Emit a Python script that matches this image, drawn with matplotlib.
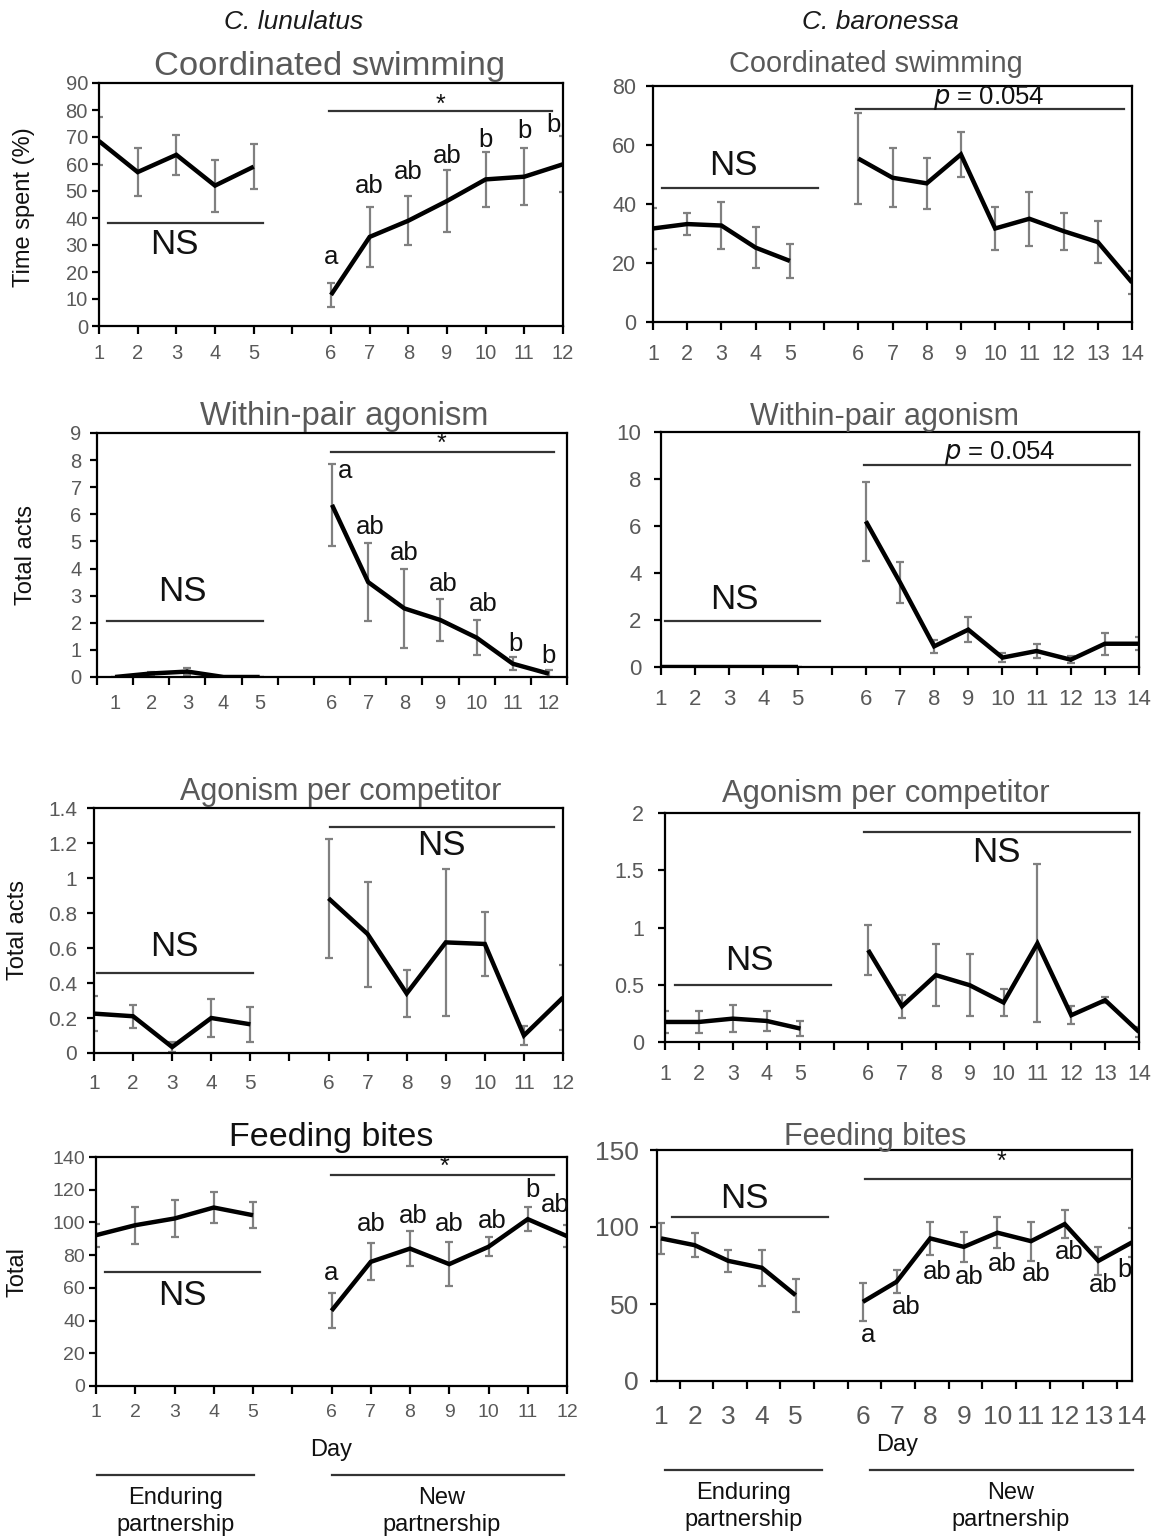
import numpy as np
import matplotlib
matplotlib.use('Agg')
import matplotlib.pyplot as plt
from matplotlib.transforms import blended_transform_factory

plt.rcParams['font.family'] = ['Liberation Sans', 'DejaVu Sans']

W, H = 1159, 1537
GRAY = '#595959'
ERR = '#808080'

# ── data ─────────────────────────────────────────────────────────────────────
days_l = list(range(1, 13))          # C. lunulatus
days_b = list(range(1, 15))          # C. baronessa

# coordinated swimming (%)
swim_l = [68.5, 57, 63.4, 52, 59, 11.5, 33, 39, 46.3, 54.3, 55.3, 59.9]
swim_l_err = [9, 9, 7.3, 9.6, 8.3, 4.4, 11.2, 9, 11.5, 10.2, 10.6, 10.4]
swim_b = [31.7, 33.2, 32.7, 25.2, 20.7, 55.4, 48.9, 47, 56.8, 31.7, 35, 30.8, 27.1, 13.4]
swim_b_err = [7, 3.7, 8, 6.9, 5.7, 15.3, 10, 8.7, 7.5, 7.3, 9.2, 6.3, 7.1, 3.8]

# within-pair agonism (acts)
wpa_l = [0, 0.13, 0.2, 0, 0, 6.35, 3.5, 2.53, 2.1, 1.45, 0.49, 0.12]
wpa_l_err = [0, 0.07, 0.12, 0, 0, 1.5, 1.43, 1.45, 0.76, 0.65, 0.24, 0.12]
wpa_b = [0, 0, 0, 0, 0, 6.2, 3.6, 0.88, 1.59, 0.4, 0.68, 0.31, 0.99, 0.99]
wpa_b_err = [0, 0, 0, 0, 0, 1.68, 0.88, 0.28, 0.53, 0.2, 0.3, 0.15, 0.46, 0.27]

# agonism per competitor (acts)
apc_l = [0.225, 0.21, 0.034, 0.2, 0.164, 0.884, 0.68, 0.34, 0.632, 0.623, 0.1, 0.317]
apc_l_err = [0.1, 0.067, 0.03, 0.11, 0.1, 0.34, 0.3, 0.134, 0.42, 0.185, 0.055, 0.185]
apc_b = [0.175, 0.175, 0.204, 0.184, 0.117, 0.803, 0.312, 0.584, 0.496, 0.345, 0.861, 0.234, 0.365, 0.088]
apc_b_err = [0.1, 0.1, 0.12, 0.09, 0.065, 0.22, 0.1, 0.27, 0.27, 0.12, 0.69, 0.08, 0.025, 0.04]

# feeding bites (total)
feed_l = [92.2, 98.3, 102.4, 109.1, 104.4, 46, 75.9, 84, 74.5, 85.1, 102, 91.6]
feed_l_err = [7, 11.2, 11.5, 9.7, 7.9, 10.7, 11.4, 10.5, 13.6, 5.8, 7.3, 6.7]
feed_b = [92.6, 88.2, 78, 73.5, 55.7, 51.4, 64.4, 92.6, 87.1, 96.3, 90.8, 101.9, 78, 90]
feed_b_err = [10, 7.9, 7, 11.6, 10.6, 12.3, 7.5, 10.5, 9.6, 10, 12.7, 9.2, 9.2, 9.2]

# post-hoc letters
swim_l_letters = ['a', 'ab', 'ab', 'ab', 'b', 'b', 'b']
wpa_l_letters = ['a', 'ab', 'ab', 'ab', 'ab', 'b', 'b']
feed_l_letters = ['a', 'ab', 'ab', 'ab', 'ab', 'b', 'ab']
feed_b_letters = ['a', 'ab', 'ab', 'ab', 'ab', 'ab', 'ab', 'ab', 'b']

NS_FS = 25
LET_FS = 18.5
STAR_FS = 18
P_FS = 18.5


def slot(day):
    # category slot index: days 1-5, empty slot, then day 6 onward
    return day - 1 if day <= 5 else day


fig = plt.figure(figsize=(W / 100, H / 100), dpi=100)


def px_axes(l, r, t, b):
    return fig.add_axes([l / W, 1 - b / H, (r - l) / W, (b - t) / H])


def draw_series(ax, days, vals, errs, shift=0.0):
    x = np.array([slot(d) for d in days], dtype=float) + shift
    v = np.array(vals)
    e = np.array(errs)
    for seg in (slice(0, 5), slice(5, None)):
        ax.errorbar(x[seg], v[seg], yerr=e[seg], fmt='none', ecolor=ERR,
                    elinewidth=1.6, capsize=3, capthick=1.6, zorder=2)
        ax.plot(x[seg], v[seg], color='black', lw=3.2, zorder=3,
                solid_capstyle='butt', solid_joinstyle='miter')


def style(ax, yticks, ylabels, tick_fs, xpad, ypad):
    for s in ax.spines.values():
        s.set_linewidth(1.6)
        s.set_color('black')
    ax.set_yticks(yticks)
    ax.set_yticklabels(ylabels)
    ax.set_ylim(yticks[0], yticks[-1])
    ax.tick_params(axis='y', direction='out', length=5, width=1.6,
                   labelsize=tick_fs, labelcolor=GRAY, pad=ypad)
    ax.tick_params(axis='x', direction='out', length=6, width=1.6,
                   labelsize=tick_fs, labelcolor=GRAY, pad=xpad)


def bar(ax, x0, x1, y):
    ax.plot([x0, x1], [y, y], color='#333333', lw=1.6, clip_on=False, zorder=4)


def txt(ax, x, y, s, fs, **kw):
    ax.text(x, y, s, fontsize=fs, ha='center', va='center', color='#111111',
            clip_on=False, zorder=5, **kw)


def xlabels_on_ticks(ax, days):
    n = slot(days[-1])
    ax.set_xlim(0, n)
    ax.set_xticks(range(n + 1))
    labs = [''] * (n + 1)
    for d in days:
        labs[slot(d)] = str(d)
    ax.set_xticklabels(labs)


# ── row 1: coordinated swimming ──────────────────────────────────────────────
ax1 = px_axes(99, 563, 83, 326)
draw_series(ax1, days_l, swim_l, swim_l_err)
style(ax1, list(range(0, 91, 10)), [str(v) for v in range(0, 91, 10)], 14.5, 7, 3)
xlabels_on_ticks(ax1, days_l)
bar(ax1, 0.24, 4.25, 38.2)
txt(ax1, 1.96, 30, 'NS', NS_FS)
bar(ax1, 5.96, 11.71, 79.5)
txt(ax1, 8.84, 82, '*', STAR_FS)
for xx, yy, s in zip([6, 7, 8, 9, 10, 11, 11.76], [25.6, 52, 57, 63, 69, 72.4, 74.5], swim_l_letters):
    txt(ax1, xx, yy, s, LET_FS)

ax2 = px_axes(653, 1132, 86, 322)
draw_series(ax2, days_b, swim_b, swim_b_err)
style(ax2, [0, 20, 40, 60, 80], ['0', '20', '40', '60', '80'], 15.5, 10, 7)
xlabels_on_ticks(ax2, days_b)
bar(ax2, 0.25, 4.81, 45.5)
txt(ax2, 2.35, 53, 'NS', NS_FS)
bar(ax2, 5.93, 13.77, 72.1)
txt(ax2, 9.8, 75.8, r'$\it{p}$ = 0.054', P_FS)

# ── row 2: within-pair agonism ───────────────────────────────────────────────
ax3 = px_axes(97, 567, 433, 677)
draw_series(ax3, days_l, wpa_l, wpa_l_err, shift=0.5)
style(ax3, list(range(0, 10)), [str(v) for v in range(0, 10)], 14.5, 8, 6)
ax3.set_xlim(0, 13)
ax3.set_xticks(range(14))
ax3.set_xticklabels([])
ax3.set_xticks([slot(d) + 0.5 for d in days_l], minor=True)
ax3.set_xticklabels([str(d) for d in days_l], minor=True)
ax3.tick_params(axis='x', which='minor', length=0, labelsize=14.5,
                labelcolor=GRAY, pad=12)
bar(ax3, 0.29, 4.6, 2.06)
txt(ax3, 2.36, 3.14, 'NS', NS_FS)
bar(ax3, 6.47, 12.65, 8.3)
txt(ax3, 9.54, 8.6, '*', STAR_FS)
for xx, yy, s in zip([6.85, 7.57, 8.51, 9.59, 10.67, 11.57, 12.49],
                     [7.58, 5.55, 4.56, 3.43, 2.69, 1.23, 0.76], wpa_l_letters):
    txt(ax3, xx, yy, s, LET_FS)

ax4 = px_axes(661, 1139, 432, 667)
draw_series(ax4, days_b, wpa_b, wpa_b_err)
style(ax4, [0, 2, 4, 6, 8, 10], ['0', '2', '4', '6', '8', '10'], 16, 10, 9)
xlabels_on_ticks(ax4, days_b)
bar(ax4, 0.13, 4.67, 1.96)
txt(ax4, 2.15, 2.87, 'NS', NS_FS)
bar(ax4, 5.95, 13.73, 8.58)
txt(ax4, 9.93, 9.1, r'$\it{p}$ = 0.054', P_FS)

# ── row 3: agonism per competitor ────────────────────────────────────────────
ax5 = px_axes(94, 563, 808, 1053)
draw_series(ax5, days_l, apc_l, apc_l_err)
yt5 = [0, 0.2, 0.4, 0.6, 0.8, 1.0, 1.2, 1.4]
style(ax5, yt5, ['0', '0.2', '0.4', '0.6', '0.8', '1', '1.2', '1.4'], 15, 9, 7)
xlabels_on_ticks(ax5, days_l)
bar(ax5, 0.07, 4.06, 0.455)
txt(ax5, 2.06, 0.607, 'NS', NS_FS)
bar(ax5, 6.05, 11.76, 1.29)
txt(ax5, 8.89, 1.184, 'NS', NS_FS)

ax6 = px_axes(665, 1139, 813, 1042)
draw_series(ax6, days_b, apc_b, apc_b_err)
style(ax6, [0, 0.5, 1, 1.5, 2], ['0', '0.5', '1', '1.5', '2'], 15.5, 10, 10)
xlabels_on_ticks(ax6, days_b)
bar(ax6, 0.31, 4.89, 0.496)
txt(ax6, 2.5, 0.71, 'NS', NS_FS)
bar(ax6, 5.88, 13.73, 1.836)
txt(ax6, 9.79, 1.655, 'NS', NS_FS)

# ── row 4: feeding bites ─────────────────────────────────────────────────────
ax7 = px_axes(96, 567, 1157, 1386)
draw_series(ax7, days_l, feed_l, feed_l_err)
style(ax7, list(range(0, 141, 20)), [str(v) for v in range(0, 141, 20)], 14, 7, 3)
xlabels_on_ticks(ax7, days_l)
bar(ax7, 0.24, 4.18, 69.8)
txt(ax7, 2.19, 55.6, 'NS', NS_FS)
bar(ax7, 5.98, 11.67, 128.8)
txt(ax7, 8.88, 133.9, '*', STAR_FS)
for xx, yy, s in zip([5.98, 7, 8.08, 9, 10.1, 11.12, 11.7],
                     [68.8, 99.3, 103.8, 99.3, 100.7, 119.7, 110.9], feed_l_letters):
    txt(ax7, xx, yy, s, LET_FS)

ax8 = px_axes(657, 1132, 1150, 1381)
draw_series(ax8, days_b, feed_b, feed_b_err)
style(ax8, [0, 50, 100, 150], ['0', '50', '100', '150'], 19, 15, 8)
ax8.set_xlim(-0.12, 14)
ax8.set_xticks([slot(d) for d in days_b])
ax8.set_xticklabels([str(d) for d in days_b])
ax8.tick_params(axis='x', which='major', length=0, labelsize=19, pad=17)
ax8.set_xticks([k + 0.55 for k in range(14)], minor=True)
ax8.tick_params(axis='x', which='minor', direction='out', length=6, width=1.6)
txt(ax8, 2.48, 118.6, 'NS', NS_FS)
bar(ax8, 0.33, 4.96, 106.2)
bar(ax8, 6.06, 13.97, 130.9)
txt(ax8, 10.11, 142.4, '*', STAR_FS)
for xx, yy, s in zip([6.14, 7.28, 8.21, 9.15, 10.13, 11.16, 12.13, 13.14, 13.77],
                     [29.7, 48.1, 70.9, 67.6, 75.9, 69.8, 83.9, 62.2, 72.4], feed_b_letters):
    txt(ax8, xx, yy, s, LET_FS)

# ── titles / labels ──────────────────────────────────────────────────────────
def ftext(x, y, s, fs, color=GRAY, **kw):
    fig.text(x / W, 1 - y / H, s, fontsize=fs, color=color, ha='center', **kw)


ftext(294, 29, 'C. lunulatus', 19, color='#1a1a1a', style='italic', va='baseline')
ftext(880, 29, 'C. baronessa', 19, color='#1a1a1a', style='italic', va='baseline')

ftext(330, 75, 'Coordinated swimming', 24.8, va='baseline')
ftext(876, 72, 'Coordinated swimming', 20.8, va='baseline')
ftext(344, 425, 'Within-pair agonism', 23.5, va='baseline')
ftext(885, 425, 'Within-pair agonism', 22, va='baseline')
ftext(341, 800, 'Agonism per competitor', 22, va='baseline')
ftext(886, 802, 'Agonism per competitor', 22.3, va='baseline')
ftext(331, 1146, 'Feeding bites', 24.5, color='#111111', va='baseline')
ftext(875, 1145, 'Feeding bites', 22, va='baseline')

for x, yc, s in [(24, 207, 'Time spent (%)'), (26, 555, 'Total acts'),
                 (18, 930, 'Total acts'), (18, 1272, 'Total')]:
    fig.text(x / W, 1 - yc / H, s, fontsize=17, rotation=90, ha='center',
             va='center', color='#111111')

ftext(331, 1450, 'Day', 17, color='#111111', va='center')
ftext(897, 1445, 'Day', 17, color='#111111', va='center')

# partnership brackets under bottom row
for ax, segs, ytop, ytxt in [(ax7, [(0.02, 4.02, 2.03, 'Enduring'), (6.0, 11.93, 8.81, 'New')], 1475, 1498),
                             (ax8, [(0.11, 4.79, 2.45, 'Enduring'), (6.2, 14.02, 10.39, 'New')], 1470, 1493)]:
    tr = blended_transform_factory(ax.transData, fig.transFigure)
    for x0, x1, xc, word in segs:
        ax.plot([x0, x1], [1 - ytop / H] * 2, color='#333333', lw=1.6,
                transform=tr, clip_on=False)
        ax.text(xc, 1 - ytxt / H, word, transform=tr, fontsize=17, ha='center',
                va='center', color='#111111')
        ax.text(xc, 1 - (ytxt + 27) / H, 'partnership', transform=tr, fontsize=17,
                ha='center', va='center', color='#111111')

fig.savefig('out.png', dpi=100, facecolor='white')
